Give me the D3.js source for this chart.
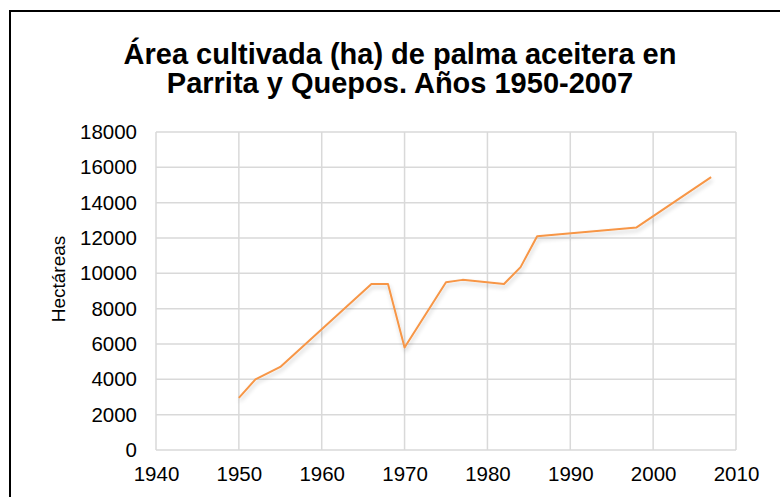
<!DOCTYPE html>
<html>
<head>
<meta charset="utf-8">
<script src="https://cdn.jsdelivr.net/npm/d3@7"></script>
<style>
  html, body { margin: 0; padding: 0; background: #fff; }
  svg { display: block; }
</style>
</head>
<body>
<div id="chart"></div>
<script>
// Área cultivada de palma aceitera, Parrita y Quepos
const years = [1950, 1952, 1955, 1966, 1968, 1970, 1975, 1977, 1982, 1984, 1986, 1998, 2007];
const hectares = [2950, 4000, 4700, 9400, 9400, 5800, 9500, 9630, 9400, 10350, 12100, 12600, 15450];
const xTicks = [1940, 1950, 1960, 1970, 1980, 1990, 2000, 2010];
const yTicks = [0, 2000, 4000, 6000, 8000, 10000, 12000, 14000, 16000, 18000];
const titleLines = ["Área cultivada (ha) de palma aceitera en", "Parrita y Quepos. Años 1950-2007"];

const width = 780, height = 497;
const font = "'Liberation Sans', Arial, sans-serif";
const plot = { left: 156, right: 736, top: 132, bottom: 450 };

const svg = d3.select("#chart").append("svg")
  .attr("width", width)
  .attr("height", height);

// outer chart border (runs off the right/bottom edge like the original)
svg.append("rect")
  .attr("x", 10).attr("y", 11)
  .attr("width", width + 20).attr("height", height + 20)
  .attr("fill", "#fff")
  .attr("stroke", "#000")
  .attr("stroke-width", 2);

const x = d3.scaleLinear().domain([1940, 2010]).range([plot.left, plot.right]);
const y = d3.scaleLinear().domain([0, 18000]).range([plot.bottom, plot.top]);

// grid
const grid = svg.append("g").attr("stroke", "#d9d9d9").attr("stroke-width", 1.5);
grid.selectAll("line.h").data(yTicks).join("line")
  .attr("x1", plot.left).attr("x2", plot.right)
  .attr("y1", d => y(d)).attr("y2", d => y(d));
grid.selectAll("line.v").data(xTicks).join("line")
  .attr("y1", plot.top).attr("y2", plot.bottom)
  .attr("x1", d => x(d)).attr("x2", d => x(d));

// axes (labels only)
const yAxis = svg.append("g")
  .attr("transform", `translate(${plot.left - 6},0)`)
  .call(d3.axisLeft(y).tickValues(yTicks).tickFormat(d3.format("d")).tickSize(0).tickPadding(13));
const xAxis = svg.append("g")
  .attr("transform", `translate(0,${plot.bottom})`)
  .call(d3.axisBottom(x).tickValues(xTicks).tickFormat(d3.format("d")).tickSize(0).tickPadding(16));
[yAxis, xAxis].forEach(a => {
  a.select(".domain").remove();
  a.selectAll("text")
    .attr("fill", "#000")
    .attr("font-family", font)
    .attr("font-size", "20.5px");
});

// soft line shadow
const defs = svg.append("defs");
const f = defs.append("filter").attr("id", "shadow")
  .attr("x", "-5%").attr("y", "-5%").attr("width", "110%").attr("height", "120%");
f.append("feGaussianBlur").attr("in", "SourceAlpha").attr("stdDeviation", 2).attr("result", "b");
f.append("feOffset").attr("in", "b").attr("dx", 1).attr("dy", 2.5).attr("result", "o");
f.append("feComponentTransfer").attr("in", "o").attr("result", "s")
  .append("feFuncA").attr("type", "linear").attr("slope", 0.2);
const m = f.append("feMerge");
m.append("feMergeNode").attr("in", "s");
m.append("feMergeNode").attr("in", "SourceGraphic");

const series = years.map((yr, i) => ({ yr, v: hectares[i] }));
const line = d3.line().x(d => x(d.yr)).y(d => y(d.v));

svg.append("path")
  .datum(series)
  .attr("d", line)
  .attr("fill", "none")
  .attr("stroke", "#f79646")
  .attr("stroke-width", 2)
  .attr("stroke-linejoin", "round")
  .attr("filter", "url(#shadow)");

// title
svg.append("text")
  .attr("x", 400).attr("y", 64)
  .attr("text-anchor", "middle")
  .attr("font-family", font)
  .attr("font-size", "29px")
  .attr("font-weight", "bold")
  .selectAll("tspan").data(titleLines).join("tspan")
  .attr("x", 400)
  .attr("dy", (d, i) => i === 0 ? 0 : 29)
  .text(d => d);

// y axis title
svg.append("text")
  .attr("transform", `translate(65,279) rotate(-90)`)
  .attr("text-anchor", "middle")
  .attr("font-family", font)
  .attr("font-size", "19px")
  .attr("fill", "#000")
  .text("Hectáreas");
</script>
</body>
</html>
